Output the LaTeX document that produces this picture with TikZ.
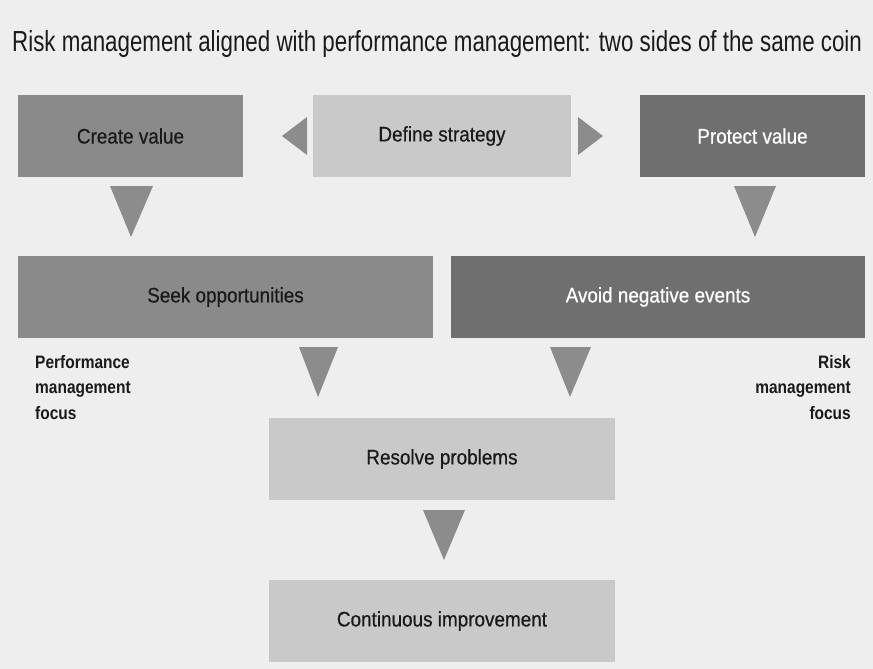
\documentclass[tikz,border=0pt]{standalone}
\usepackage{fontspec}
\setmainfont{Liberation Sans}
\newfontfamily\condfont[FakeStretch=0.77]{Liberation Sans}
\newfontfamily\sidefont[FakeStretch=0.86]{Liberation Sans}
\newfontfamily\boxfont[FakeStretch=0.90,FakeBold=0.6]{Liberation Sans}
\definecolor{bgc}{HTML}{EEEEEE}
\definecolor{midg}{HTML}{8A8A8A}
\definecolor{darkg}{HTML}{6F6F6F}
\definecolor{lightg}{HTML}{C9C9C9}
\definecolor{trig}{HTML}{8C8C8C}
\definecolor{txt}{HTML}{1A1A1A}
\tikzset{
  boxbase/.style={inner sep=0pt, minimum height=82pt, font=\boxfont\fontsize{21}{24}\selectfont},
  midbox/.style={boxbase, fill=midg, text=txt},
  darkbox/.style={boxbase, fill=darkg, text=white},
  lightbox/.style={boxbase, fill=lightg, text=txt},
  tri/.style={fill=trig},
  sidelbl/.style={font=\sidefont\bfseries\fontsize{18}{25.5}\selectfont, text=txt, inner sep=0pt}
}
\begin{document}
\begin{tikzpicture}[x=1pt,y=-1pt]
\fill[bgc] (0,0) rectangle (873,669);
\useasboundingbox (0,0) rectangle (873,669);
\node[font=\condfont\fontsize{29}{32}\selectfont, text=txt, anchor=west, inner sep=0pt] (title) at (12,44) {Risk management aligned with performance management: two sides of the same coin};

\node[midbox, minimum width=225pt] (create) at (130.5,136) {Create value};
\node[lightbox, minimum width=258pt] (define) at (442,136) {Define strategy};
\node[darkbox, minimum width=225pt] (protect) at (752.5,136) {Protect value};
\node[midbox, minimum width=415pt] (seek) at (225.5,297) {Seek opportunities};
\node[darkbox, minimum width=414pt] (avoid) at (658,297) {Avoid negative events};
\node[lightbox, minimum width=346pt] (resolve) at (442,459) {Resolve problems};
\node[lightbox, minimum width=346pt] (cont) at (442,621) {Continuous improvement};

\node[sidelbl, anchor=north west, align=left] (perf) at (35,355) {Performance\\management\\focus};
\node[sidelbl, anchor=north east, align=right] (riskf) at (851,355) {Risk\\management\\focus};

\fill[tri] (307,117) -- (307,155) -- (282,136) -- cycle;
\fill[tri] (578,117) -- (578,155) -- (603,136) -- cycle;
\fill[tri] (110,186) -- (153,186) -- (131,237) -- cycle;
\fill[tri] (734,186) -- (776,186) -- (755,237) -- cycle;
\fill[tri] (299,347) -- (338,347) -- (318,397) -- cycle;
\fill[tri] (550,347) -- (591,347) -- (570,397) -- cycle;
\fill[tri] (423,510) -- (465,510) -- (444,560) -- cycle;
\end{tikzpicture}
\end{document}
